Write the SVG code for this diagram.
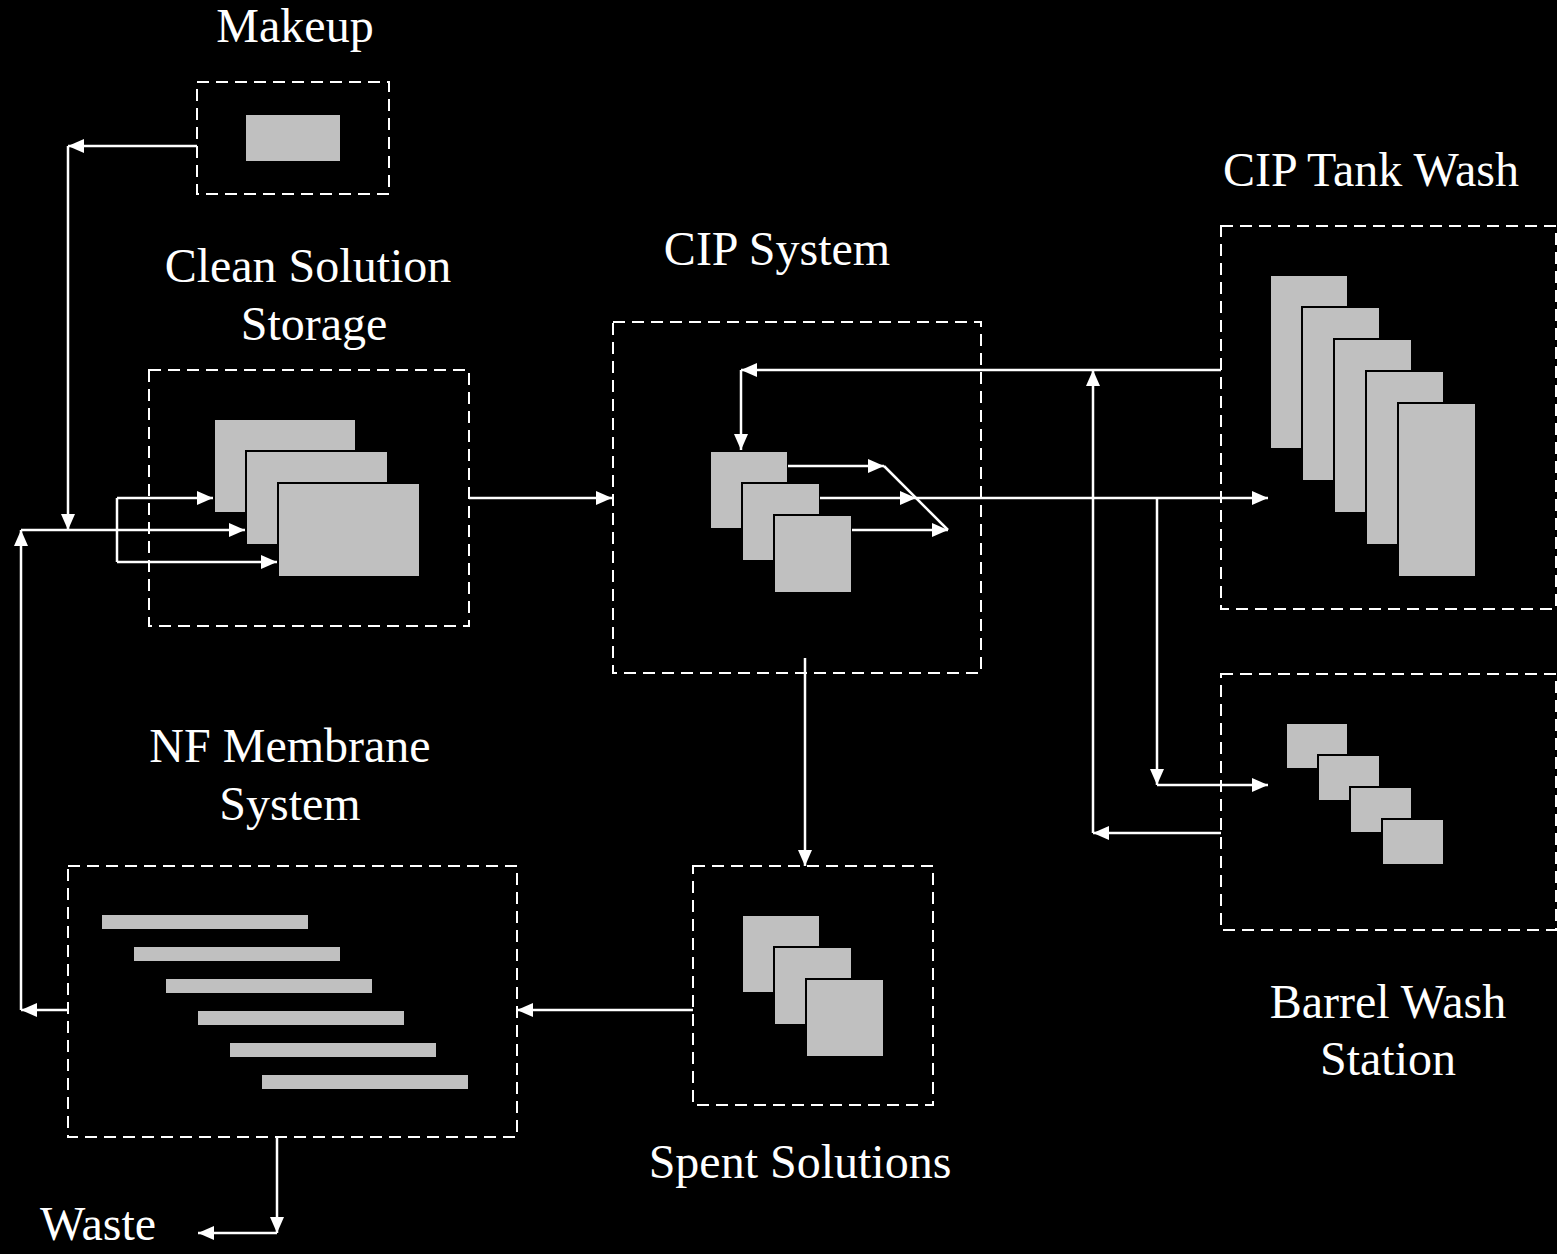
<svg xmlns="http://www.w3.org/2000/svg" width="1557" height="1254" viewBox="0 0 1557 1254">
<style>
.box{fill:none;stroke:#fff;stroke-width:2;stroke-dasharray:12 7}
.blk{fill:#c0c0c0;stroke:#000;stroke-width:2}
.bar{fill:#c0c0c0}
.lbl{font-family:"Liberation Serif","Times New Roman",serif;font-size:48px;fill:#fff;text-anchor:middle}
.c{fill:none;stroke:#fff;stroke-width:2.5}
.a{marker-end:url(#ah)}
</style>
<defs>
<marker id="ah" markerUnits="userSpaceOnUse" markerWidth="16" markerHeight="14" refX="16" refY="7" orient="auto">
<path d="M0,0 L16,7 L0,14 z" fill="#fff"/>
</marker>
</defs>
<rect width="1557" height="1254" fill="#000"/>

<g id="makeup">
<rect class="box" x="197" y="82" width="192" height="112"/>
<rect x="246" y="115" width="94" height="46" fill="#c0c0c0"/>
<text class="lbl" x="295" y="42">Makeup</text>
</g>

<g id="clean-solution-storage">
<rect class="box" x="149" y="370" width="320" height="256"/>
<rect class="blk" x="214" y="419" width="142" height="94"/>
<rect class="blk" x="246" y="451" width="142" height="94"/>
<rect class="blk" x="278" y="483" width="142" height="94"/>
<text class="lbl" x="308" y="282">Clean Solution</text>
<text class="lbl" x="314" y="340">Storage</text>
</g>

<g id="cip-system">
<rect class="box" x="613" y="322" width="368" height="351"/>
<rect class="blk" x="710" y="451" width="78" height="78"/>
<rect class="blk" x="742" y="483" width="78" height="78"/>
<rect class="blk" x="774" y="515" width="78" height="78"/>
<text class="lbl" x="777" y="265">CIP System</text>
</g>

<g id="cip-tank-wash">
<rect class="box" x="1221" y="226" width="335" height="383"/>
<rect class="blk" x="1270" y="275" width="78" height="174"/>
<rect class="blk" x="1302" y="307" width="78" height="174"/>
<rect class="blk" x="1334" y="339" width="78" height="174"/>
<rect class="blk" x="1366" y="371" width="78" height="174"/>
<rect class="blk" x="1398" y="403" width="78" height="174"/>
<text class="lbl" x="1371" y="186">CIP Tank Wash</text>
</g>

<g id="barrel-wash-station">
<rect class="box" x="1221" y="674" width="335" height="256"/>
<rect class="blk" x="1286" y="723" width="62" height="46"/>
<rect class="blk" x="1318" y="755" width="62" height="46"/>
<rect class="blk" x="1350" y="787" width="62" height="46"/>
<rect class="blk" x="1382" y="819" width="62" height="46"/>
<text class="lbl" x="1388" y="1018">Barrel Wash</text>
<text class="lbl" x="1388" y="1075">Station</text>
</g>

<g id="spent-solutions">
<rect class="box" x="693" y="866" width="240" height="239"/>
<rect class="blk" x="742" y="915" width="78" height="78"/>
<rect class="blk" x="774" y="947" width="78" height="78"/>
<rect class="blk" x="806" y="979" width="78" height="78"/>
<text class="lbl" x="800" y="1178">Spent Solutions</text>
</g>

<g id="nf-membrane-system">
<rect class="box" x="68" y="866" width="449" height="271"/>
<rect class="bar" x="102" y="915" width="206" height="14"/>
<rect class="bar" x="134" y="947" width="206" height="14"/>
<rect class="bar" x="166" y="979" width="206" height="14"/>
<rect class="bar" x="198" y="1011" width="206" height="14"/>
<rect class="bar" x="230" y="1043" width="206" height="14"/>
<rect class="bar" x="262" y="1075" width="206" height="14"/>
<text class="lbl" x="290" y="762">NF Membrane</text>
<text class="lbl" x="290" y="820">System</text>
</g>

<g id="waste">
<text class="lbl" x="98" y="1240">Waste</text>
</g>

<g id="connectors">
<path class="c a" d="M197,146 H68"/>
<path class="c a" d="M68,146 V530"/>
<path class="c a" d="M68,1010 H21"/>
<path class="c a" d="M21,1010 V530"/>
<path class="c a" d="M21,530 H245"/>
<path class="c" d="M117,498 V562"/>
<path class="c a" d="M117,498 H213"/>
<path class="c a" d="M117,562 H277"/>
<path class="c a" d="M469,498 H612"/>
<path class="c a" d="M788,466 H884"/>
<path class="c" d="M884,466 L948,530"/>
<path class="c a" d="M820,498 H916"/>
<path class="c a" d="M916,498 H1268"/>
<path class="c a" d="M852,530 H948"/>
<path class="c a" d="M1221,370 H741"/>
<path class="c a" d="M741,370 V450"/>
<path class="c a" d="M1093,833 V370"/>
<path class="c a" d="M1221,833 H1093"/>
<path class="c a" d="M1157,498 V785"/>
<path class="c a" d="M1157,785 H1268"/>
<path class="c a" d="M805,658 V866"/>
<path class="c a" d="M693,1010 H517"/>
<path class="c a" d="M277,1138 V1233"/>
<path class="c a" d="M277,1233 H198"/>
</g>
</svg>
